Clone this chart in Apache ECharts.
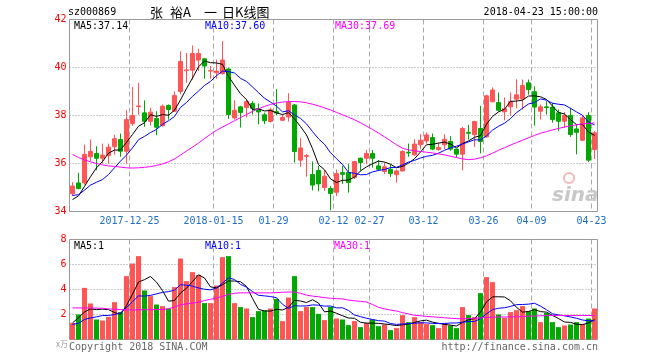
<!DOCTYPE html>
<html><head><meta charset="utf-8">
<script src="https://cdn.jsdelivr.net/npm/echarts@6/dist/echarts.min.js"></script>
<style>html,body{margin:0;padding:0;background:#fff}#c{width:660px;height:360px}</style>
</head><body><div id="c"></div>
<script>
const dates = [
 '2017-12-11','2017-12-12','2017-12-13','2017-12-14','2017-12-15','2017-12-18','2017-12-19','2017-12-20','2017-12-21','2017-12-22',
 '2017-12-25','2017-12-26','2017-12-27','2017-12-28','2017-12-29',
 '2018-01-02','2018-01-03','2018-01-04','2018-01-05','2018-01-08','2018-01-09','2018-01-10','2018-01-11','2018-01-12',
 '2018-01-15','2018-01-16','2018-01-17','2018-01-18','2018-01-19','2018-01-22','2018-01-23','2018-01-24','2018-01-25','2018-01-26',
 '2018-01-29','2018-01-30','2018-01-31','2018-02-01','2018-02-02','2018-02-05','2018-02-06','2018-02-07','2018-02-08','2018-02-09',
 '2018-02-12','2018-02-13','2018-02-14','2018-02-22','2018-02-23','2018-02-26','2018-02-27','2018-02-28',
 '2018-03-01','2018-03-02','2018-03-05','2018-03-06','2018-03-07','2018-03-08','2018-03-09','2018-03-12','2018-03-13','2018-03-14',
 '2018-03-15','2018-03-16','2018-03-19','2018-03-20','2018-03-21','2018-03-22','2018-03-23','2018-03-26','2018-03-27','2018-03-28',
 '2018-03-29','2018-03-30','2018-04-02','2018-04-03','2018-04-04','2018-04-09','2018-04-10','2018-04-11','2018-04-12','2018-04-13',
 '2018-04-16','2018-04-17','2018-04-18','2018-04-19','2018-04-20','2018-04-23'];

const opens = [34.74,35.19,35.19,36.28,36.42,36.22,36.33,36.70,37.00,36.51,
 37.67,38.37,38.11,37.76,37.88,37.58,38.42,38.18,39.00,39.87,
 39.89,40.31,40.36,39.85,39.78,39.75,39.94,37.90,38.36,38.33,
 38.50,38.24,38.03,37.75,38.16,37.80,37.94,38.44,36.14,36.30,
 35.54,35.71,35.00,34.96,34.80,35.62,35.62,35.42,36.22,36.22,
 36.42,35.90,35.67,35.76,35.53,35.69,36.47,36.36,36.78,36.94,
 37.08,36.58,36.78,36.92,36.60,36.39,37.30,37.20,37.46,37.11,
 38.58,38.54,38.15,38.36,38.68,38.69,39.36,38.99,38.18,38.36,
 38.35,38.11,37.76,38.00,37.44,36.97,38.00,36.58];
const closes = [35.06,34.96,36.38,36.50,36.22,36.35,36.68,37.03,36.51,37.83,
 38.00,38.40,37.76,38.14,37.51,38.39,38.25,38.83,40.25,39.90,
 40.58,40.58,40.06,39.87,39.85,40.31,38.04,38.22,38.13,38.58,
 38.30,38.15,37.78,38.24,38.10,37.92,38.54,36.50,36.65,36.33,
 35.10,35.15,35.47,34.75,35.58,35.55,35.21,36.08,36.04,36.42,
 36.22,35.76,35.86,35.58,35.69,36.50,36.44,36.81,36.97,37.19,
 36.60,36.67,37.01,36.60,36.39,37.46,37.26,37.75,36.92,38.82,
 39.06,38.22,38.28,38.58,38.86,39.25,39.08,38.35,38.36,38.33,
 37.83,37.76,38.00,37.21,37.30,37.90,36.14,37.28];
const lows = [34.64,34.92,35.12,36.10,35.72,36.00,36.00,36.37,36.28,36.00,
 37.56,38.04,37.53,37.58,37.18,37.53,37.83,38.14,38.88,39.36,
 39.50,39.85,39.53,39.53,39.53,39.70,37.86,37.83,37.50,37.92,
 38.04,37.63,37.64,37.71,38.02,37.78,37.75,36.04,35.86,35.45,
 34.88,34.84,34.86,34.05,34.64,35.15,34.79,35.35,35.70,35.97,
 35.83,35.69,35.56,35.44,35.21,35.67,36.28,36.32,36.60,36.83,
 36.56,36.53,36.60,36.53,36.25,35.72,37.00,36.69,36.42,37.08,
 38.54,38.17,37.80,38.00,38.30,38.25,38.87,37.58,37.83,38.04,
 37.70,37.35,37.49,37.11,36.38,36.93,36.06,36.19];
const highs = [35.22,35.61,36.79,37.00,36.72,36.83,36.83,37.20,37.25,38.22,
 39.19,39.36,38.63,38.32,38.18,38.46,38.46,39.00,40.67,40.61,
 40.92,40.78,40.40,40.06,40.33,41.10,39.99,38.63,38.40,38.68,
 38.60,38.50,38.12,38.33,39.10,38.06,38.93,38.47,37.06,36.40,
 36.08,35.90,35.72,35.06,35.75,35.90,35.97,36.11,36.25,36.56,
 36.56,36.14,36.04,35.97,35.76,36.56,36.83,37.01,37.22,37.29,
 37.25,36.87,37.22,37.15,36.60,37.53,37.61,37.78,38.40,38.86,
 39.17,38.96,38.75,38.96,39.51,39.50,39.50,39.22,38.46,38.60,
 38.53,38.25,38.14,38.32,37.63,38.00,38.14,37.35];

const ma5 = [34.50,34.65,35.05,35.45,35.82,36.08,36.43,36.56,36.56,36.88,
 37.21,37.55,37.70,38.03,37.96,38.04,38.01,38.22,38.65,39.12,
 39.56,40.03,40.27,40.20,40.19,40.13,39.63,39.26,38.91,38.66,
 38.25,38.28,38.19,38.21,38.11,38.04,38.12,37.86,37.54,37.19,
 36.62,35.95,35.74,35.36,35.21,35.30,35.31,35.43,35.69,35.86,
 35.99,36.10,36.06,35.97,35.82,35.88,36.01,36.20,36.48,36.78,
 36.80,36.85,36.89,36.81,36.65,36.83,36.94,37.09,37.16,37.64,
 37.96,38.15,38.26,38.59,38.60,38.64,38.81,38.82,38.78,38.67,
 38.39,38.13,38.06,37.83,37.62,37.63,37.31,37.17];
const ma10 = [34.67,34.70,34.89,35.10,35.22,35.33,35.54,35.82,36.10,36.35,
 36.65,36.99,37.13,37.29,37.42,37.63,37.78,37.96,38.34,38.54,
 38.80,39.02,39.25,39.42,39.66,39.85,39.83,39.77,39.55,39.42,
 39.19,38.95,38.72,38.56,38.39,38.15,38.20,38.02,37.88,37.65,
 37.33,37.03,36.80,36.45,36.20,35.96,35.63,35.59,35.53,35.54,
 35.65,35.71,35.75,35.83,35.84,35.94,36.06,36.13,36.23,36.30,
 36.34,36.43,36.55,36.65,36.72,36.81,36.90,36.99,36.98,37.15,
 37.39,37.55,37.68,37.87,38.12,38.30,38.48,38.54,38.69,38.64,
 38.51,38.47,38.44,38.30,38.15,38.01,37.72,37.61];
const ma30 = [36.38,36.25,36.15,36.07,36.00,35.94,35.90,35.88,35.85,35.82,
 35.81,35.82,35.84,35.87,35.92,35.98,36.07,36.19,36.35,36.52,
 36.68,36.85,37.04,37.22,37.38,37.52,37.65,37.78,37.91,38.04,
 38.17,38.28,38.38,38.46,38.52,38.56,38.58,38.58,38.57,38.53,
 38.47,38.40,38.32,38.23,38.13,38.03,37.93,37.82,37.70,37.56,
 37.42,37.27,37.11,36.95,36.78,36.64,36.57,36.53,36.50,36.47,
 36.44,36.40,36.36,36.30,36.25,36.19,36.16,36.18,36.24,36.32,
 36.43,36.55,36.66,36.77,36.87,36.97,37.07,37.17,37.26,37.33,
 37.40,37.46,37.52,37.57,37.61,37.65,37.67,37.69];

const volumes = [1.33,2.00,4.13,2.88,1.60,1.52,1.81,2.99,2.19,5.07,
 6.08,6.67,3.92,3.47,2.80,2.67,2.48,4.19,6.48,4.67,
 5.39,5.15,2.91,2.91,4.32,6.59,6.67,2.91,2.59,2.48,
 1.79,2.27,2.32,2.48,3.25,1.47,3.36,5.07,2.27,2.61,
 2.59,2.05,1.55,2.61,1.68,1.60,1.15,1.47,0.99,1.33,
 1.60,1.07,1.20,0.75,0.91,1.95,1.39,1.79,1.39,1.25,
 1.15,0.91,1.33,1.12,0.91,2.59,1.95,1.79,3.71,4.99,
 4.59,2.00,1.73,2.19,2.35,2.67,2.27,2.48,1.39,2.13,
 1.39,0.99,1.12,1.20,1.39,1.25,1.68,2.48];
const volMa5 = [1.33,1.75,2.20,2.45,2.39,2.43,2.39,2.16,2.02,2.72,
 3.63,4.60,4.79,5.04,4.59,3.91,3.07,3.12,3.72,4.10,
 4.64,5.18,4.92,4.21,4.14,4.38,4.68,4.68,4.62,4.25,
 3.29,2.41,2.29,2.27,2.42,2.36,2.58,3.13,3.08,2.96,
 3.18,2.92,2.21,2.28,2.10,1.90,1.72,1.70,1.38,1.31,
 1.31,1.29,1.24,1.19,1.11,1.18,1.24,1.36,1.49,1.55,
 1.39,1.30,1.21,1.15,1.08,1.37,1.58,1.67,2.19,3.01,
 3.41,3.42,3.40,3.10,2.57,2.19,2.24,2.39,2.23,2.19,
 1.93,1.68,1.40,1.37,1.22,1.19,1.33,1.60];
const volMa10 = [1.20,1.30,1.60,1.73,1.81,1.92,1.92,2.00,2.13,2.55,
 3.03,3.49,3.47,3.53,3.65,3.77,3.83,3.95,4.38,4.34,
 4.27,4.12,4.02,3.97,4.12,4.51,4.93,4.80,4.41,4.19,
 3.83,3.54,3.49,3.44,3.34,2.82,2.49,2.71,2.68,2.69,
 2.77,2.75,2.67,2.68,2.53,2.54,2.32,1.96,1.83,1.70,
 1.60,1.51,1.47,1.28,1.21,1.24,1.27,1.30,1.34,1.33,
 1.29,1.27,1.28,1.32,1.32,1.38,1.44,1.44,1.67,2.05,
 2.39,2.50,2.54,2.65,2.79,2.80,2.83,2.90,2.67,2.38,
 2.06,1.96,1.90,1.80,1.70,1.56,1.50,1.50];
const volMa30 = [2.53,2.53,2.52,2.52,2.51,2.50,2.45,2.42,2.40,2.37,
 2.36,2.37,2.38,2.39,2.40,2.40,2.45,2.60,2.78,2.85,
 2.92,2.98,3.12,3.22,3.32,3.45,3.60,3.70,3.73,3.73,
 3.73,3.73,3.73,3.73,3.75,3.78,3.80,3.80,3.70,3.55,
 3.47,3.42,3.35,3.30,3.27,3.25,3.15,3.10,3.05,3.00,
 2.80,2.58,2.45,2.35,2.28,2.15,2.05,1.93,1.90,1.85,
 1.81,1.78,1.74,1.70,1.67,1.65,1.67,1.70,1.73,1.76,
 1.79,1.80,1.80,1.81,1.82,1.84,1.86,1.88,1.90,1.91,
 1.92,1.92,1.92,1.92,1.92,1.92,1.92,1.92];

const tickDates = ['2017-12-25','2018-01-15','2018-01-29','2018-02-12','2018-02-27','2018-03-12','2018-03-26','2018-04-09','2018-04-23'];
const tickTexts = ['2017-12-25','2018-01-15','01-29','02-12','02-27','03-12','03-26','04-09','04-23'];
const priceMin = 34, priceMax = 42, priceStep = 2;
const volMin = 0, volMax = 8, volStep = 2;

const RED = '#ff5555', GREEN = '#00a800';
const MONO = '"DejaVu Sans Mono", "Liberation Mono", monospace';
const CJK = '13px "Noto Sans CJK SC", sans-serif';

const chart = echarts.init(document.getElementById('c'), null, {renderer: 'canvas'});
const isTick = (i, v) => tickDates.indexOf(v) >= 0;
function xAxisFor(grid, showLabel) {
  return {
    type: 'category', gridIndex: grid, data: dates, boundaryGap: true,
    axisLine: {show: false}, axisTick: {show: false},
    axisLabel: showLabel ? {
      show: true, interval: isTick, formatter: v => tickTexts[tickDates.indexOf(v)] || '',
      color: '#1e6ec8', fontFamily: MONO, fontSize: 10, margin: 5, padding: [0, 6, 0, 0]
    } : {show: false},
    splitLine: {show: true, interval: isTick, showMaxLine: false,
      lineStyle: {type: [5, 3], color: '#aaaaaa', width: 1}}
  };
}
function ml(name, data, color, xi, yi) {
  return {name, type: 'line', data, xAxisIndex: xi, yAxisIndex: yi, symbol: 'none', showSymbol: false,
    lineStyle: {color, width: 1}, itemStyle: {color}, z: 5, silent: true};
}
const txt = (text, x, y, fill, extra) => ({type: 'text', x, y, silent: true, z: 100,
  style: Object.assign({text, fill, font: '10px ' + MONO, align: 'left', verticalAlign: 'middle'}, extra || {})});

chart.setOption({
  animation: false,
  backgroundColor: '#fff',
  grid: [
    {left: 69.5, top: 19.5, width: 528, height: 192, show: true, borderColor: '#999', borderWidth: 1, backgroundColor: 'transparent', outerBoundsMode: 'none', containLabel: false},
    {left: 69.5, top: 239.5, width: 528, height: 100, show: true, borderColor: '#999', borderWidth: 1, backgroundColor: 'transparent', outerBoundsMode: 'none', containLabel: false}
  ],
  xAxis: [xAxisFor(0, true), xAxisFor(1, false)],
  yAxis: [
    {type: 'value', gridIndex: 0, min: priceMin, max: priceMax, interval: priceStep, scale: true,
      axisLine: {show: false}, axisTick: {show: false},
      axisLabel: {color: '#ff0000', fontFamily: MONO, fontSize: 10, margin: 3},
      splitLine: {show: true, lineStyle: {type: [1, 2], color: '#999'}}},
    {type: 'value', gridIndex: 1, min: volMin, max: volMax, interval: volStep,
      axisLine: {show: false}, axisTick: {show: false},
      axisLabel: {color: '#ff0000', fontFamily: MONO, fontSize: 10, margin: 3, formatter: v => v === 0 ? '' : String(v)},
      splitLine: {show: true, lineStyle: {type: [1, 2], color: '#999'}}}
  ],
  series: [
    {type: 'candlestick', xAxisIndex: 0, yAxisIndex: 0, barWidth: 4,
      data: dates.map((d, i) => [opens[i], closes[i], lows[i], highs[i]]),
      itemStyle: {color: RED, color0: GREEN, borderColor: RED, borderColor0: GREEN, borderWidth: 1}, z: 3, silent: true},
    ml('MA5', ma5, '#000000', 0, 0),
    ml('MA10', ma10, '#0000ff', 0, 0),
    ml('MA30', ma30, '#ff00ff', 0, 0),
    {type: 'bar', xAxisIndex: 1, yAxisIndex: 1, barWidth: 5, silent: true, z: 3,
      data: volumes.map((v, i) => ({value: v, itemStyle: {color: closes[i] >= opens[i] ? RED : GREEN}}))},
    ml('VMA5', volMa5, '#000000', 1, 1),
    ml('VMA10', volMa10, '#0000ff', 1, 1),
    ml('VMA30', volMa30, '#ff00ff', 1, 1)
  ],
  graphic: [
    txt('sz000869', 68, 12, '#000'),
    txt('张', 150, 12, '#000', {font: CJK}),
    txt('裕A', 170, 12, '#000', {font: CJK}),
    txt('一', 204, 12, '#000', {font: CJK}),
    txt('日K线图', 222, 12, '#000', {font: CJK}),
    txt('2018-04-23 15:00:00', 598, 12, '#000', {align: 'right'}),
    txt('MA5:37.14', 74, 26, '#000'),
    txt('MA10:37.60', 205, 26, '#0000ff'),
    txt('MA30:37.69', 335, 26, '#ff00ff'),
    txt('MA5:1', 74, 246, '#000'),
    txt('MA10:1', 205, 246, '#0000ff'),
    txt('MA30:1', 334, 246, '#ff00ff'),
    txt('Copyright 2018 SINA.COM', 69, 347, '#666'),
    txt('http://finance.sina.com.cn', 598, 347, '#666', {align: 'right'}),
    txt('x万', 56, 344, '#999', {font: '8px "Noto Sans CJK SC", sans-serif'}),
    {type: 'circle', shape: {cx: 569, cy: 178, r: 5}, silent: true, z: 1,
      style: {fill: 'none', stroke: '#f3b8b8', lineWidth: 2}},
    txt('sina', 552, 196, '#c8c8c8', {font: 'italic bold 20px "DejaVu Sans", sans-serif', z: 1})
  ]
});
</script>
</body></html>
